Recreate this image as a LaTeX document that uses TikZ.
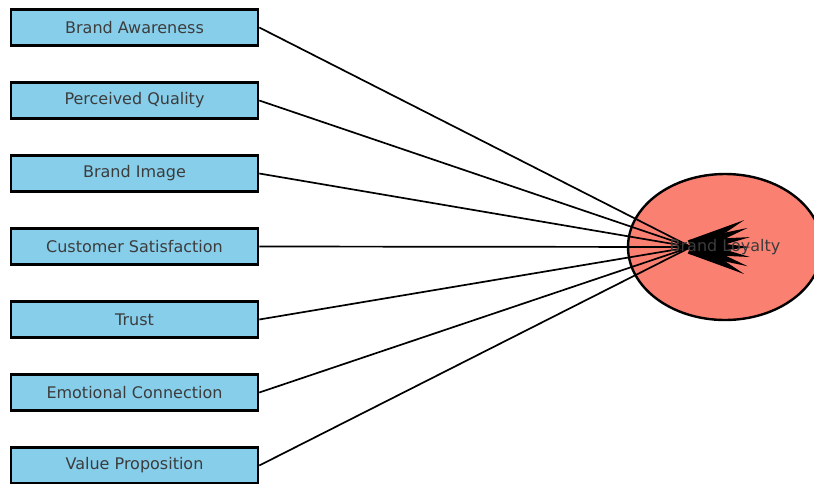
\documentclass[tikz,border=0pt]{standalone}
\usepackage{fontspec}
\setmainfont{DejaVu Sans}
\usetikzlibrary{positioning,arrows.meta,calc,shapes.geometric}
\definecolor{skyfill}{HTML}{87CEEB}
\definecolor{salmonfill}{HTML}{FA8072}
\definecolor{txtgray}{HTML}{3C3C3C}

\begin{document}
\begin{tikzpicture}[x=1pt,y=-1pt,font=\fontsize{16}{19}\selectfont,>=Triangle]
\tikzset{
  box/.style={draw=black,line width=2.6pt,fill=skyfill,text=txtgray,minimum width=247pt,minimum height=36pt,inner sep=0pt},
  blob/.style={ellipse,draw=black,line width=2.4pt,fill=salmonfill,minimum width=194pt,minimum height=146pt,inner sep=0pt},
  arr/.style={-{Triangle[length=60pt,width=14pt]},line width=1.7pt,draw=black},
  lbl/.style={text=txtgray,inner sep=0pt}
}
\useasboundingbox (0,0) rectangle (814,483);

\node[blob] (loyal) at (725,247) {};
\coordinate (hub) at ($(loyal.center)+(-34,0)$);

\node[box] (aware) at (134.5,27.5) {Brand Awareness};
\node[box] (quality) at (134.5,100.5) {Perceived Quality};
\node[box] (image) at (134.5,173.5) {Brand Image};
\node[box] (satisf) at (134.5,246.5) {Customer Satisfaction};
\node[box] (trust) at (134.5,319.5) {Trust};
\node[box] (emotion) at (134.5,392.5) {Emotional Connection};
\node[box] (value) at (134.5,465.5) {Value Proposition};

\draw[arr] (aware.east) -- ($(hub)!-60pt!(aware.east)$);
\draw[arr] (quality.east) -- ($(hub)!-60pt!(quality.east)$);
\draw[arr] (image.east) -- ($(hub)!-60pt!(image.east)$);
\draw[arr] (satisf.east) -- ($(hub)!-60pt!(satisf.east)$);
\draw[arr] (trust.east) -- ($(hub)!-60pt!(trust.east)$);
\draw[arr] (emotion.east) -- ($(hub)!-60pt!(emotion.east)$);
\draw[arr] (value.east) -- ($(hub)!-60pt!(value.east)$);

\node[lbl] (loyaltext) at (loyal.center) {Brand Loyalty};
\end{tikzpicture}
\end{document}
